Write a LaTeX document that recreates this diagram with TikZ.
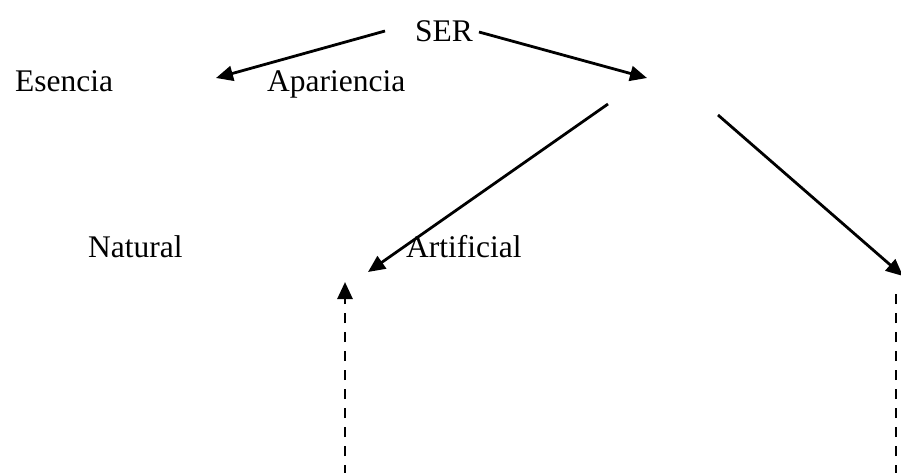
\documentclass[tikz,border=0pt]{standalone}
\usepackage{fontspec}
\setmainfont{Liberation Serif}
\usetikzlibrary{arrows.meta}
\begin{document}
\begin{tikzpicture}[x=1pt,y=-1pt,
  lbl/.style={anchor=base west,inner sep=0pt,font=\fontsize{31.5}{36}\selectfont},
  conn/.style={line width=2.8pt,-{Triangle[length=17pt,width=15pt]}},
  dconn/.style={line width=2.8pt,dash pattern=on 10pt off 9pt}]
\useasboundingbox (0,0) rectangle (901,472);
\clip (0,0) rectangle (901,472);
\node[lbl] (ser) at (415,41) {SER};
\node[lbl] (esencia) at (15,91) {Esencia};
\node[lbl] (apariencia) at (267,91) {Apariencia};
\node[lbl] (natural) at (88,257) {Natural};
\node[lbl] (artificial) at (406,257) {Artificial};
\coordinate (a1s) at (385,31);
\coordinate (a1e) at (216,78);
\coordinate (a2s) at (479,32);
\coordinate (a2e) at (647,78);
\coordinate (a3s) at (608,104);
\coordinate (a3e) at (368,272);
\coordinate (a4s) at (718,115);
\coordinate (a4e) at (903,276);
\coordinate (d1s) at (345,475);
\coordinate (d1e) at (345,282);
\coordinate (d2s) at (896,475);
\coordinate (d2e) at (896,287);
\draw[conn] (a1s) -- (a1e);
\draw[conn] (a2s) -- (a2e);
\draw[conn] (a3s) -- (a3e);
\draw[conn] (a4s) -- (a4e);
\draw[dconn,-{Triangle[length=17pt,width=15pt]}] (d1s) -- (d1e);
\draw[dconn] (d2s) -- (d2e);
\end{tikzpicture}
\end{document}
